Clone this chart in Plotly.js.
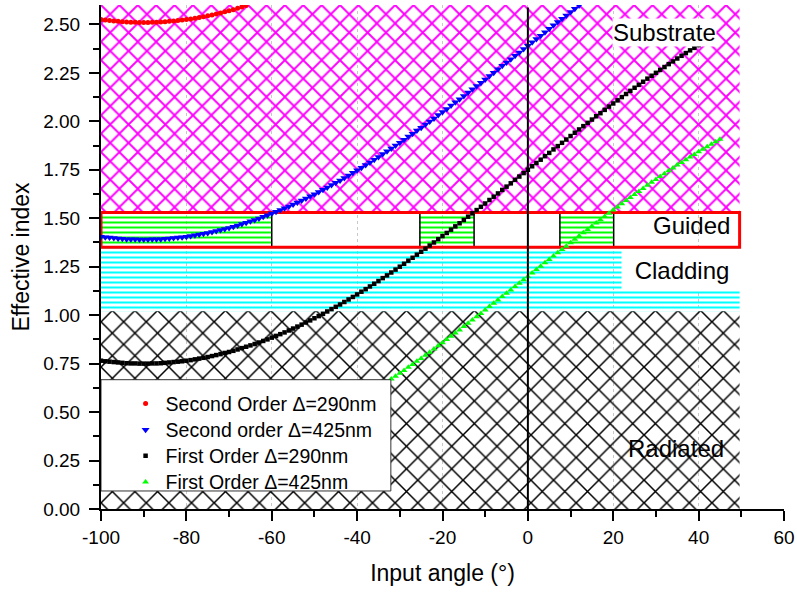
<!DOCTYPE html>
<html>
<head>
<meta charset="utf-8">
<script src="https://cdn.plot.ly/plotly-3.0.1.min.js"></script>
<style>html,body{margin:0;padding:0;background:#fff;}#chart{width:797px;height:594px;}</style>
</head>
<body>
<div id="chart"></div>
<script>
// ---------- data ----------
const seriesNames = ['Second Order \u0394=290nm', 'Second order \u0394=425nm', 'First Order \u0394=290nm', 'First Order \u0394=425nm'];

const xRed = [-100,-99,-98,-97,-96,-95,-94,-93,-92,-91,-90,-89,-88,-87,-86,-85,-84,-83,-82,-81,-80,-79,-78,-77,-76,-75,-74,-73,-72,-71,-70,-69,-68,-67,-66];
const yRed = [2.525,2.522,2.520,2.518,2.516,2.514,2.512,2.511,2.511,2.510,2.510,2.510,2.511,2.511,2.512,2.514,2.516,2.518,2.520,2.522,2.525,2.528,2.532,2.536,2.540,2.544,2.549,2.554,2.559,2.565,2.570,2.576,2.583,2.590,2.597];

const xBlue = [-100,-99,-98,-97,-96,-95,-94,-93,-92,-91,-90,-89,-88,-87,-86,-85,-84,-83,-82,-81,-80,-79,-78,-77,-76,-75,-74,-73,-72,-71,-70,-69,-68,-67,-66,-65,-64,-63,-62,-61,-60,-59,-58,-57,-56,-55,-54,-53,-52,-51,-50,-49,-48,-47,-46,-45,-44,-43,-42,-41,-40,-39,-38,-37,-36,-35,-34,-33,-32,-31,-30,-29,-28,-27,-26,-25,-24,-23,-22,-21,-20,-19,-18,-17,-16,-15,-14,-13,-12,-11,-10,-9,-8,-7,-6,-5,-4,-3,-2,-1,0,1,2,3,4,5,6,7,8,9,10,11,12];
const yBlue = [1.405,1.402,1.400,1.398,1.396,1.394,1.392,1.391,1.391,1.390,1.390,1.390,1.391,1.391,1.392,1.394,1.396,1.398,1.400,1.402,1.405,1.408,1.412,1.416,1.420,1.424,1.429,1.434,1.439,1.445,1.450,1.456,1.463,1.470,1.477,1.484,1.491,1.499,1.507,1.515,1.524,1.533,1.542,1.551,1.561,1.571,1.581,1.591,1.602,1.613,1.624,1.635,1.647,1.659,1.671,1.683,1.695,1.708,1.721,1.734,1.747,1.761,1.774,1.788,1.802,1.816,1.831,1.845,1.860,1.875,1.890,1.905,1.921,1.936,1.952,1.967,1.983,1.999,2.015,2.032,2.048,2.064,2.081,2.098,2.114,2.131,2.148,2.165,2.182,2.199,2.216,2.234,2.251,2.268,2.286,2.303,2.320,2.338,2.355,2.373,2.390,2.408,2.425,2.442,2.460,2.477,2.495,2.512,2.529,2.546,2.564,2.581,2.598];

const xBlack = [-100,-99,-98,-97,-96,-95,-94,-93,-92,-91,-90,-89,-88,-87,-86,-85,-84,-83,-82,-81,-80,-79,-78,-77,-76,-75,-74,-73,-72,-71,-70,-69,-68,-67,-66,-65,-64,-63,-62,-61,-60,-59,-58,-57,-56,-55,-54,-53,-52,-51,-50,-49,-48,-47,-46,-45,-44,-43,-42,-41,-40,-39,-38,-37,-36,-35,-34,-33,-32,-31,-30,-29,-28,-27,-26,-25,-24,-23,-22,-21,-20,-19,-18,-17,-16,-15,-14,-13,-12,-11,-10,-9,-8,-7,-6,-5,-4,-3,-2,-1,0,1,2,3,4,5,6,7,8,9,10,11,12,13,14,15,16,17,18,19,20,21,22,23,24,25,26,27,28,29,30,31,32,33,34,35,36,37,38,39,40];
const yBlack = [0.765,0.762,0.760,0.758,0.756,0.754,0.752,0.751,0.751,0.750,0.750,0.750,0.751,0.751,0.752,0.754,0.756,0.758,0.760,0.762,0.765,0.768,0.772,0.776,0.780,0.784,0.789,0.794,0.799,0.805,0.810,0.816,0.823,0.830,0.837,0.844,0.851,0.859,0.867,0.875,0.884,0.893,0.902,0.911,0.921,0.931,0.941,0.951,0.962,0.973,0.984,0.995,1.007,1.019,1.031,1.043,1.055,1.068,1.081,1.094,1.107,1.121,1.134,1.148,1.162,1.176,1.191,1.205,1.220,1.235,1.250,1.265,1.281,1.296,1.312,1.327,1.343,1.359,1.375,1.392,1.408,1.424,1.441,1.458,1.474,1.491,1.508,1.525,1.542,1.559,1.576,1.594,1.611,1.628,1.646,1.663,1.680,1.698,1.715,1.733,1.750,1.768,1.785,1.802,1.820,1.837,1.855,1.872,1.889,1.906,1.924,1.941,1.958,1.975,1.992,2.009,2.026,2.042,2.059,2.076,2.092,2.108,2.125,2.141,2.157,2.173,2.188,2.204,2.220,2.235,2.250,2.265,2.280,2.295,2.309,2.324,2.338,2.352,2.366,2.379,2.393];

const xGreen = [-100,-99,-98,-97,-96,-95,-94,-93,-92,-91,-90,-89,-88,-87,-86,-85,-84,-83,-82,-81,-80,-79,-78,-77,-76,-75,-74,-73,-72,-71,-70,-69,-68,-67,-66,-65,-64,-63,-62,-61,-60,-59,-58,-57,-56,-55,-54,-53,-52,-51,-50,-49,-48,-47,-46,-45,-44,-43,-42,-41,-40,-39,-38,-37,-36,-35,-34,-33,-32,-31,-30,-29,-28,-27,-26,-25,-24,-23,-22,-21,-20,-19,-18,-17,-16,-15,-14,-13,-12,-11,-10,-9,-8,-7,-6,-5,-4,-3,-2,-1,0,1,2,3,4,5,6,7,8,9,10,11,12,13,14,15,16,17,18,19,20,21,22,23,24,25,26,27,28,29,30,31,32,33,34,35,36,37,38,39,40,41,42,43,44,45];
const yGreen = [0.215,0.212,0.210,0.208,0.206,0.204,0.202,0.201,0.201,0.200,0.200,0.200,0.201,0.201,0.202,0.204,0.206,0.208,0.210,0.212,0.215,0.218,0.222,0.226,0.230,0.234,0.239,0.244,0.249,0.255,0.260,0.266,0.273,0.280,0.287,0.294,0.301,0.309,0.317,0.325,0.334,0.343,0.352,0.361,0.371,0.381,0.391,0.401,0.412,0.423,0.434,0.445,0.457,0.469,0.481,0.493,0.505,0.518,0.531,0.544,0.557,0.571,0.584,0.598,0.612,0.626,0.641,0.655,0.670,0.685,0.700,0.715,0.731,0.746,0.762,0.777,0.793,0.809,0.825,0.842,0.858,0.874,0.891,0.908,0.924,0.941,0.958,0.975,0.992,1.009,1.026,1.044,1.061,1.078,1.096,1.113,1.130,1.148,1.165,1.183,1.200,1.218,1.235,1.252,1.270,1.287,1.305,1.322,1.339,1.356,1.374,1.391,1.408,1.425,1.442,1.459,1.476,1.492,1.509,1.526,1.542,1.558,1.575,1.591,1.607,1.623,1.638,1.654,1.670,1.685,1.700,1.715,1.730,1.745,1.759,1.774,1.788,1.802,1.816,1.829,1.843,1.856,1.869,1.882,1.895,1.907];

// region bounds (effective index) and angle extent
const regionX = [-100, 49.6];
const radiatedY = [0, 1.02];
const claddingY = [1.02, 1.35];
const guidedY = [1.35, 1.53];
const substrateY = [1.53, 2.7];
const guidedBoxesX = [[-100, -60], [-25.3, -12.6], [7.5, 20.1]];
const legendBoxX = [-100, -32.1];
const legendBoxY = [0.093, 0.667];

const regionLabels = ['Substrate', 'Guided', 'Cladding', 'Radiated'];
const regionLabelX = [32.1, 38.4, 36.0, 34.7];
const regionLabelY = [2.46, 1.462, 1.235, 0.31];

const xTickVals = [-100, -80, -60, -40, -20, 0, 20, 40, 60];
const xTickText = ['-100', '-80', '-60', '-40', '-20', '0', '20', '40', '60'];
const xMinorVals = [-90, -70, -50, -30, -10, 10, 30, 50];
const yTickVals = [0, 0.25, 0.5, 0.75, 1.0, 1.25, 1.5, 1.75, 2.0, 2.25, 2.5];
const yTickText = ['0.00', '0.25', '0.50', '0.75', '1.00', '1.25', '1.50', '1.75', '2.00', '2.25', '2.50'];

// ---------- helpers ----------
function rectX(x) { return [x[0], x[1], x[1], x[0], x[0]]; }
function rectY(y) { return [y[0], y[0], y[1], y[1], y[0]]; }
function legendLabel(s) { return '<span style="font-size:19.5px">' + s + '</span>'; }

const FONT = 'Liberation Sans, Arial, Helvetica, sans-serif';
const clear = 'rgba(0,0,0,0)';

function hatch(xs, ys, shape, color, size, solidity) {
  return {
    type: 'scatter', mode: 'none', x: xs, y: ys, fill: 'toself',
    fillcolor: clear,
    fillpattern: { shape: shape, fgcolor: color, bgcolor: clear, size: size, solidity: solidity },
    showlegend: false, hoverinfo: 'skip'
  };
}

let boxX = [], boxY = [];
guidedBoxesX.forEach(function (b) {
  boxX = boxX.concat(rectX(b), [null]);
  boxY = boxY.concat(rectY(guidedY), [null]);
});

const traces = [
  hatch(rectX(regionX), rectY(substrateY), 'x', '#ff00ff', 13, 0.27),
  hatch(rectX(regionX), rectY(claddingY), '-', '#00ffff', 5, 0.4),
  hatch(rectX(regionX), rectY(radiatedY), 'x', '#000000', 16, 0.18),
  {
    type: 'scatter', mode: 'lines', x: boxX, y: boxY, fill: 'toself', fillcolor: clear,
    fillpattern: { shape: '-', fgcolor: '#00ff00', bgcolor: clear, size: 5, solidity: 0.4 },
    line: { color: '#000000', width: 1.5 }, showlegend: false, hoverinfo: 'skip'
  },
  {
    type: 'scatter', mode: 'lines', x: rectX(regionX), y: rectY(guidedY),
    line: { color: '#ff0000', width: 3 }, showlegend: false, hoverinfo: 'skip'
  },
  { type: 'scatter', mode: 'markers', name: legendLabel(seriesNames[0]), x: xRed, y: yRed,
    marker: { symbol: 'circle', size: 5, color: '#ff0000' } },
  { type: 'scatter', mode: 'markers', name: legendLabel(seriesNames[1]), x: xBlue, y: yBlue,
    marker: { symbol: 'triangle-down', size: 7, color: '#0000ff' } },
  { type: 'scatter', mode: 'markers', name: legendLabel(seriesNames[2]), x: xBlack, y: yBlack,
    marker: { symbol: 'square', size: 4.5, color: '#000000' } },
  { type: 'scatter', mode: 'markers', name: legendLabel(seriesNames[3]), x: xGreen, y: yGreen,
    marker: { symbol: 'triangle-up', size: 6, color: '#00ff00' } }
];

const annotations = regionLabels.map(function (t, i) {
  const a = { x: regionLabelX[i], y: regionLabelY[i], xref: 'x', yref: 'y', text: t,
    showarrow: false, font: { family: FONT, size: 24, color: '#000' } };
  if (t === 'Substrate') { a.bgcolor = '#ffffff'; a.borderpad = 0; }
  if (t === 'Cladding') { a.bgcolor = '#ffffff'; a.borderpad = 5; a.width = 110; a.height = 30; }
  return a;
});

const layout = {
  width: 797, height: 594,
  margin: { l: 101, r: 13, t: 5, b: 85, pad: 0 },
  paper_bgcolor: '#ffffff', plot_bgcolor: '#ffffff',
  font: { family: FONT, size: 19, color: '#000' },
  showlegend: true,
  legend: {
    x: 0.036, y: 0.245, xanchor: 'left', yanchor: 'top',
    bgcolor: clear, borderwidth: 0, font: { family: FONT, size: 17.8, color: '#000' },
    tracegroupgap: 0
  },
  xaxis: {
    range: [-100, 60], showline: true, linecolor: '#000', linewidth: 2,
    tickmode: 'array', tickvals: xTickVals, ticktext: xTickText,
    ticks: 'outside', ticklen: 10, tickwidth: 2, tickcolor: '#000',
    minor: { tickvals: xMinorVals, ticks: 'outside', ticklen: 6, tickwidth: 2, tickcolor: '#000', showgrid: false },
    showgrid: true, gridcolor: '#c8c8c8', griddash: 'dot', gridwidth: 1,
    zeroline: false, tickfont: { size: 19 },
    title: { text: 'Input angle (\u00b0)', font: { size: 23 }, standoff: 18 }
  },
  yaxis: {
    range: [0, 2.6], showline: true, linecolor: '#000', linewidth: 2,
    tickmode: 'array', tickvals: yTickVals, ticktext: yTickText,
    ticks: 'outside', ticklen: 10, tickwidth: 2, tickcolor: '#000',
    minor: { dtick: 0.125, ticks: 'outside', ticklen: 6, tickwidth: 2, tickcolor: '#000', showgrid: false },
    showgrid: false, zeroline: false, tickfont: { size: 19 },
    ticklabelstandoff: 5,
    title: { text: 'Effective index', font: { size: 23 }, standoff: 7 }
  },
  shapes: [
    { type: 'line', xref: 'x', yref: 'paper', x0: 0, x1: 0, y0: 0, y1: 0.995,
      line: { color: '#000', width: 2 }, layer: 'above' },
    { type: 'rect', xref: 'x', yref: 'y', x0: legendBoxX[0], x1: legendBoxX[1], y0: legendBoxY[0], y1: legendBoxY[1],
      fillcolor: '#ffffff', line: { color: '#333333', width: 1 }, layer: 'above' }
  ],
  annotations: annotations
};

Plotly.newPlot('chart', traces, layout, { staticPlot: true, displayModeBar: false });
</script>
</body>
</html>
